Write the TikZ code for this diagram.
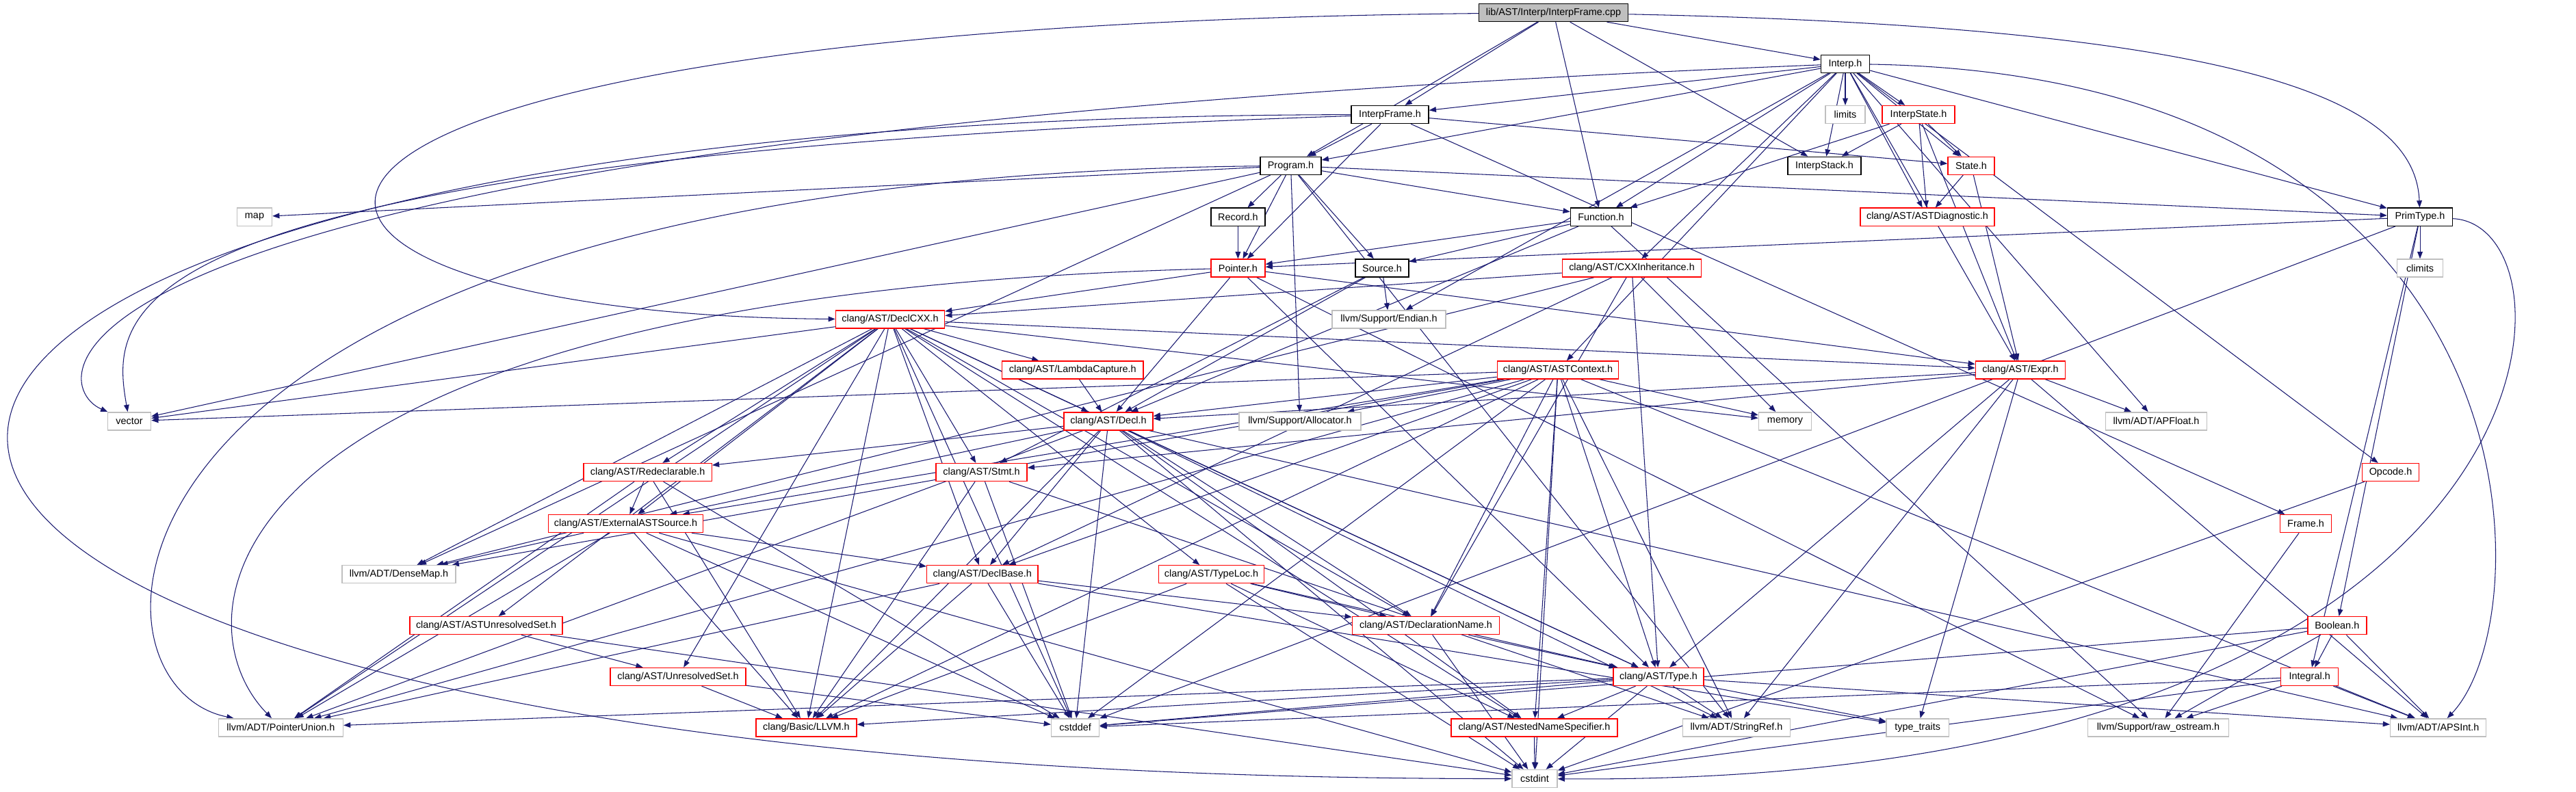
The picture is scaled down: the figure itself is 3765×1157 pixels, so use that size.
\documentclass[tikz,border=0pt]{standalone}
\usepackage{fontspec}
\setmainfont{Liberation Sans}
\usetikzlibrary{arrows.meta, backgrounds}
\definecolor{Edge}  {HTML}{191970}
\definecolor{RedB}  {HTML}{FF0000}
\definecolor{GrayB} {HTML}{BFBFBF}
\definecolor{RootF} {HTML}{BFBFBF}
\tikzset{
  hdr/.style args={#1/#2}{
    rectangle, draw=#1, fill=white, text=black,
    font=\fontsize{4.1}{5}\selectfont, align=center,
    inner sep=0pt, minimum width=#2cm, minimum height=0.26cm,
    line width=0.4pt,
  },
  arr/.style={
    -{Triangle[length=2.9pt,width=2.2pt]},
    line width=0.3pt, color=Edge,
  },
}
\begin{document}
\begin{tikzpicture}[x=0.01cm,y=-0.01cm]
    \useasboundingbox (0,0) rectangle (3765,1157);
    % rows 0-3
    \node[hdr=black/2.18, fill=RootF] (root) at (2270.5,18.5) {lib/AST/Interp/InterpFrame.cpp};
    \node[hdr=black/0.71] (ih)  at (2697,93.4)    {Interp.h};
    \node[hdr=black/1.13] (ifh) at (2031.5,167.6) {InterpFrame.h};
    \node[hdr=GrayB/0.58] (lim) at (2697,167.6)   {limits};
    \node[hdr=RedB/1.06]  (ist) at (2804,167.6)   {InterpState.h};
    \node[hdr=black/0.89] (prg) at (1886.5,242.3) {Program.h};
    \node[hdr=black/1.07] (stk) at (2666.5,242.3) {InterpStack.h};
    \node[hdr=RedB/0.68]  (sta) at (2881,242.3)   {State.h};
    % rows 4-7
    \node[hdr=GrayB/0.51] (map) at (372,317.2)    {map};
    \node[hdr=black/0.79] (rec) at (1809.4,317.2) {Record.h};
    \node[hdr=black/0.89] (fun) at (2340,317.2)   {Function.h};
    \node[hdr=RedB/1.96]  (dia) at (2817,317.2)   {clang/AST/ASTDiagnostic.h};
    \node[hdr=black/0.95] (pty) at (3537,317.2)   {PrimType.h};
    \node[hdr=RedB/0.79]  (ptr) at (1809.4,392)   {Pointer.h};
    \node[hdr=black/0.78] (src) at (2020,392)     {Source.h};
    \node[hdr=RedB/2.03]  (cxi) at (2385,392)     {clang/AST/CXXInheritance.h};
    \node[hdr=GrayB/0.67] (clm) at (3537,392)     {climits};
    \node[hdr=RedB/1.59]  (dcx) at (1301,467)     {clang/AST/DeclCXX.h};
    \node[hdr=GrayB/1.66] (end) at (2030,467)     {llvm/Support/Endian.h};
    \node[hdr=RedB/2.06]  (lam) at (1567.8,541)   {clang/AST/LambdaCapture.h};
    \node[hdr=RedB/1.77]  (ctx) at (2277,541)     {clang/AST/ASTContext.h};
    \node[hdr=RedB/1.31]  (exp) at (2953,541)     {clang/AST/Expr.h};
    % rows 8-11
    \node[hdr=GrayB/0.63] (vec) at (189,615.8)    {vector};
    \node[hdr=RedB/1.30]  (dcl) at (1620,615.8)   {clang/AST/Decl.h};
    \node[hdr=GrayB/1.78] (alc) at (1900,615.8)   {llvm/Support/Allocator.h};
    \node[hdr=GrayB/0.77] (mem) at (2609,615.8)   {memory};
    \node[hdr=GrayB/1.48] (apf) at (3151.5,615.8) {llvm/ADT/APFloat.h};
    \node[hdr=RedB/1.87]  (rdc) at (946.7,690.6)  {clang/AST/Redeclarable.h};
    \node[hdr=RedB/1.33]  (stm) at (1434.5,690.6) {clang/AST/Stmt.h};
    \node[hdr=RedB/0.83]  (opc) at (3494,690.6)   {Opcode.h};
    \node[hdr=RedB/2.26]  (ext) at (914.5,765.6)  {clang/AST/ExternalASTSource.h};
    \node[hdr=RedB/0.75]  (frm) at (3370,765.6)   {Frame.h};
    \node[hdr=GrayB/1.66] (dmp) at (583,839.7)    {llvm/ADT/DenseMap.h};
    \node[hdr=RedB/1.62]  (dbs) at (1435.8,839.7) {clang/AST/DeclBase.h};
    \node[hdr=RedB/1.54]  (tlc) at (1770.5,839.7) {clang/AST/TypeLoc.h};
    % rows 12-15
    \node[hdr=RedB/2.23]  (aus) at (710.6,914.7)  {clang/AST/ASTUnresolvedSet.h};
    \node[hdr=RedB/2.15]  (dnm) at (2084,914.7)   {clang/AST/DeclarationName.h};
    \node[hdr=RedB/0.86]  (boo) at (3415.8,914.7) {Boolean.h};
    \node[hdr=RedB/1.98]  (uns) at (991,989.5)    {clang/AST/UnresolvedSet.h};
    \node[hdr=RedB/1.32]  (typ) at (2424,989.5)   {clang/AST/Type.h};
    \node[hdr=RedB/0.84]  (itg) at (3375.7,989.5) {Integral.h};
    \node[hdr=GrayB/1.82] (pun) at (410.4,1063.8) {llvm/ADT/PointerUnion.h};
    \node[hdr=RedB/1.47]  (llv) at (1178.4,1063.8){clang/Basic/LLVM.h};
    \node[hdr=GrayB/0.70] (cdf) at (1571.6,1063.8){cstddef};
    \node[hdr=RedB/2.43]  (nns) at (2242.5,1063.8){clang/AST/NestedNameSpecifier.h};
    \node[hdr=GrayB/1.57] (srf) at (2538,1063.8)  {llvm/ADT/StringRef.h};
    \node[hdr=GrayB/0.91] (ttr) at (2802.7,1063.8){type\_traits};
    \node[hdr=GrayB/2.06] (ros) at (3154.5,1063.8){llvm/Support/raw\_ostream.h};
    \node[hdr=GrayB/1.40] (aps) at (3563.7,1063.8){llvm/ADT/APSInt.h};
    \node[hdr=GrayB/0.66] (cdi) at (2243,1138.5)  {cstdint};

    \begin{scope}[on background layer]
    % interp sources
    \draw[arr] (root)--(ifh); \draw[arr] (root)--(prg); \draw[arr] (root)--(fun);
    \draw[arr] (root)--(ih);  \draw[arr] (root)--(stk);
    \draw[arr] (root) .. controls (3300,40) and (3530,150) .. (pty);
    \draw[arr] (root) .. controls (150,40) and (250,460) .. (dcx);
    \draw[arr] (ih)--(ifh); \draw[arr] (ih)--(prg); \draw[arr] (ih)--(fun);
    \draw[arr] (ih)--(stk); \draw[arr] (ih)--(lim); \draw[arr] (ih)--(ist);
    \draw[arr] (ih)--(sta); \draw[arr] (ih)--(dia); \draw[arr] (ih)--(pty);
    \draw[arr] (ih)--(ctx); \draw[arr] (ih)--(cxi); \draw[arr] (ih)--(exp);
    \draw[arr] (ih)--(apf); \draw[arr] (ih)--(end); \draw[arr] (ih)--(opc);
    \draw[arr] (ih) .. controls (0,200) and (60,560) .. (vec);
    \draw[arr] (ih) .. controls (3720,110) and (3720,900) .. (aps);
    \draw[arr] (ifh)--(prg); \draw[arr] (ifh)--(sta); \draw[arr] (ifh)--(ptr);
    \draw[arr] (ifh)--(frm);
    \draw[arr] (ifh) .. controls (150,230) and (160,450) .. (vec);
    \draw[arr] (ifh) .. controls (-680,170) and (-680,1140) .. (cdi);
    \draw[arr] (ist)--(stk); \draw[arr] (ist)--(sta); \draw[arr] (ist)--(dia);
    \draw[arr] (ist)--(fun); \draw[arr] (ist)--(exp);
    \draw[arr] (sta)--(dia); \draw[arr] (sta)--(exp);
    \draw[arr] (prg)--(map); \draw[arr] (prg)--(vec); \draw[arr] (prg)--(rec);
    \draw[arr] (prg)--(ptr); \draw[arr] (prg)--(fun); \draw[arr] (prg)--(src);
    \draw[arr] (prg)--(pty); \draw[arr] (prg)--(dmp);
    \draw[arr] (prg) .. controls (100,260) and (90,1000) .. (pun);
    \draw[arr] (prg)--(srf); \draw[arr] (prg)--(alc);
    \draw[arr] (fun)--(src); \draw[arr] (fun)--(ptr); \draw[arr] (fun)--(dcl);
    \draw[arr] (fun)--(ros);
    \draw[arr] (rec)--(ptr);
    \draw[arr] (pty)--(clm); \draw[arr] (pty)--(ptr); \draw[arr] (pty)--(boo);
    \draw[arr] (pty)--(itg); \draw[arr] (pty)--(cdf);
    \draw[arr] (pty) .. controls (3790,330) and (3760,1150) .. (cdi);
    \draw[arr] (ptr)--(dcx); \draw[arr] (ptr)--(dcl); \draw[arr] (ptr)--(exp);
    \draw[arr] (ptr) .. controls (300,430) and (250,900) .. (pun);
    \draw[arr] (ptr)--(ros); \draw[arr] (ptr)--(typ);
    \draw[arr] (src)--(end); \draw[arr] (src)--(dcl); \draw[arr] (src)--(stm);
    \draw[arr] (cxi)--(dbs); \draw[arr] (cxi)--(dcx); \draw[arr] (cxi)--(dnm);
    \draw[arr] (cxi)--(typ); \draw[arr] (cxi)--(dmp); \draw[arr] (cxi)--(mem);
    \draw[arr] (frm)--(ros); \draw[arr] (opc)--(cdi);
    \draw[arr] (boo)--(itg); \draw[arr] (boo)--(aps); \draw[arr] (boo)--(ros);
    \draw[arr] (boo)--(cdf); \draw[arr] (boo)--(cdi);
    \draw[arr] (itg)--(aps); \draw[arr] (itg)--(ros); \draw[arr] (itg)--(cdf);
    \draw[arr] (itg)--(cdi);
    % clang headers
    \draw[arr] (dcx)--(exp); \draw[arr] (dcx)--(dcl); \draw[arr] (dcx)--(lam);
    \draw[arr] (dcx)--(stm); \draw[arr] (dcx)--(dbs); \draw[arr] (dcx)--(tlc);
    \draw[arr] (dcx)--(dnm); \draw[arr] (dcx)--(nns); \draw[arr] (dcx)--(typ);
    \draw[arr] (dcx)--(rdc); \draw[arr] (dcx)--(ext); \draw[arr] (dcx)--(aus);
    \draw[arr] (dcx)--(uns); \draw[arr] (dcx)--(llv); \draw[arr] (dcx)--(cdf);
    \draw[arr] (dcx)--(dmp); \draw[arr] (dcx)--(pun); \draw[arr] (dcx)--(vec);
    \draw[arr] (dcx)--(mem);
    \draw[arr] (lam)--(dcl);
    \draw[arr] (ctx)--(dcl); \draw[arr] (ctx)--(dbs); \draw[arr] (ctx)--(dnm);
    \draw[arr] (ctx)--(ext); \draw[arr] (ctx)--(nns); \draw[arr] (ctx)--(typ);
    \draw[arr] (ctx)--(llv); \draw[arr] (ctx)--(aps); \draw[arr] (ctx)--(dmp);
    \draw[arr] (ctx)--(pun); \draw[arr] (ctx)--(srf); \draw[arr] (ctx)--(alc);
    \draw[arr] (ctx)--(cdf); \draw[arr] (ctx)--(cdi); \draw[arr] (ctx)--(mem);
    \draw[arr] (ctx)--(vec);
    \draw[arr] (exp)--(dcl); \draw[arr] (exp)--(stm); \draw[arr] (exp)--(typ);
    \draw[arr] (exp)--(apf); \draw[arr] (exp)--(aps); \draw[arr] (exp)--(srf);
    \draw[arr] (exp)--(ttr);
    \draw[arr] (dcl)--(rdc); \draw[arr] (dcl)--(ext); \draw[arr] (dcl)--(dbs);
    \draw[arr] (dcl)--(dnm); \draw[arr] (dcl)--(nns); \draw[arr] (dcl)--(typ);
    \draw[arr] (dcl)--(llv); \draw[arr] (dcl)--(aps); \draw[arr] (dcl)--(pun);
    \draw[arr] (dcl)--(srf); \draw[arr] (dcl)--(cdf); \draw[arr] (dcl)--(cdi);
    \draw[arr] (rdc)--(ext); \draw[arr] (rdc)--(llv); \draw[arr] (rdc)--(pun);
    \draw[arr] (rdc)--(cdf);
    \draw[arr] (stm)--(llv); \draw[arr] (stm)--(cdf); \draw[arr] (stm)--(srf);
    \draw[arr] (ext)--(dbs); \draw[arr] (ext)--(llv); \draw[arr] (ext)--(dmp);
    \draw[arr] (ext)--(pun); \draw[arr] (ext)--(cdf); \draw[arr] (ext)--(cdi);
    \draw[arr] (dbs)--(dnm); \draw[arr] (dbs)--(llv); \draw[arr] (dbs)--(pun);
    \draw[arr] (dbs)--(cdf); \draw[arr] (dbs)--(ttr);
    \draw[arr] (tlc)--(dnm); \draw[arr] (tlc)--(typ); \draw[arr] (tlc)--(nns);
    \draw[arr] (tlc)--(llv); \draw[arr] (tlc)--(cdi);
    \draw[arr] (aus)--(uns); \draw[arr] (aus)--(cdi);
    \draw[arr] (dnm)--(typ); \draw[arr] (dnm)--(cdi);
    \draw[arr] (uns)--(llv); \draw[arr] (uns)--(cdf);
    \draw[arr] (typ)--(nns); \draw[arr] (typ)--(llv); \draw[arr] (typ)--(aps);
    \draw[arr] (typ)--(pun); \draw[arr] (typ)--(srf); \draw[arr] (typ)--(cdf);
    \draw[arr] (typ)--(cdi); \draw[arr] (typ)--(ttr);
    \draw[arr] (nns)--(cdi);
    \end{scope}
  \end{tikzpicture}
\end{document}
